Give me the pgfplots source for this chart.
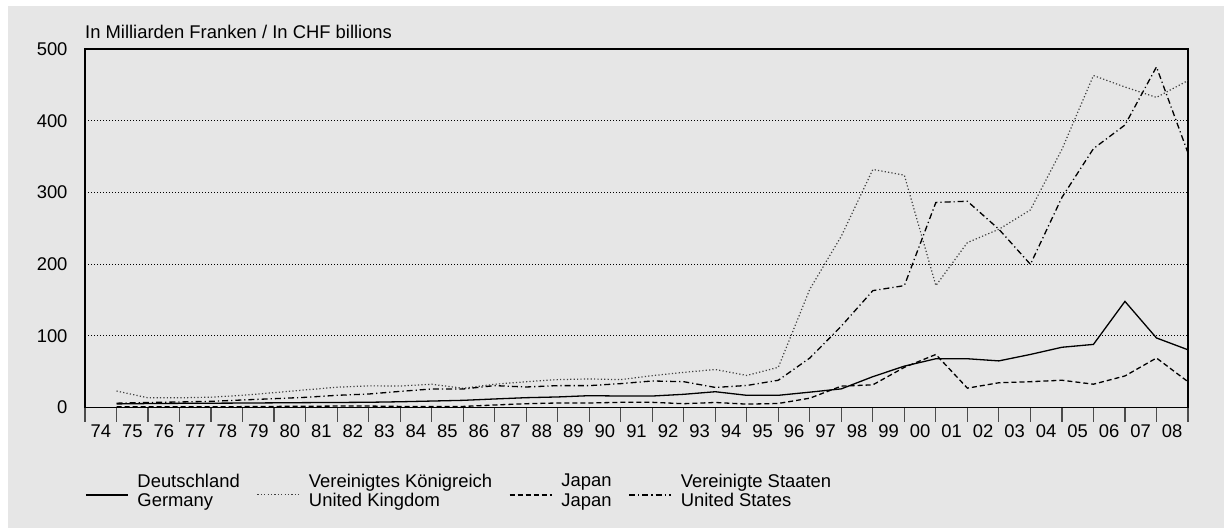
\documentclass[border=0pt]{standalone}
\usepackage{fontspec}
\setmainfont{Liberation Sans}
\usepackage{pgfplots}
\pgfplotsset{compat=1.18}
\definecolor{bg}{RGB}{230,230,230}
\newcommand\chartfont{\fontsize{18.4bp}{19.5bp}\selectfont}

\begin{document}
\begin{tikzpicture}
\path[use as bounding box, fill=white] (0,0) rectangle (1224bp,528bp);
\fill[bg] (8bp,0) rectangle (1224bp,522bp);
\begin{axis}[
    name=ax,
    at={(85bp,120.5bp)}, anchor=south west,
    scale only axis, width=1103bp, height=358.5bp,
    xmin=0, xmax=35, ymin=0, ymax=500,
    xtick={0,...,35},
    x tick label as interval,
    xticklabels={74,75,76,77,78,79,80,81,82,83,84,85,86,87,88,89,90,91,92,93,94,95,96,97,98,99,00,01,02,03,04,05,06,07,08},
    ytick={0,100,...,500},
    /pgf/number format/assume math mode=true,
    tick label style={font=\chartfont},
    ymajorgrids,
    grid style={black, line width=0.7bp, dash pattern=on 0.7bp off 2.3bp},
    axis line style={black, line width=1.4bp},
    tick pos=left,
    tick align=outside,
    major tick length=14bp,
    x tick style={black!70, line width=1.2bp},
    y tick style={draw=none},
    legend columns=4,
    legend style={at={(0,0)}, anchor=north west, yshift=-66bp,
        draw=none, fill=none, inner sep=0pt, font=\chartfont,
        nodes={inner sep=0pt}, cells={anchor=west, align=left},
        /tikz/every odd column/.append style={column sep=9bp},
        /tikz/every even column/.append style={column sep=17bp}},
    legend image code/.code={
        \path (0bp,4bp);
        \draw[#1] (0bp,-4bp) -- (42bp,-4bp);},
]
\addplot[black, line width=1.3bp] coordinates { % Deutschland
(1,5)(2,5.5)(3,5.8)(4,6)(5,6.2)(6,6.5)(7,6.8)(8,7)(9,7.3)(10,8)(11,9)(12,10)
(13,11.9)(14,13.7)(15,14.7)(16,16.5)(17,16)(18,16)(19,18.4)(20,22)(21,17)(22,17)
(23,21.4)(24,26)(25,43)(26,57.7)(27,68)(28,68)(29,65)(30,74)(31,84)(32,88)
(33,148)(34,97)(35,80.5)
};
\addlegendentry{Deutschland\\Germany}
\addplot[black!75, line width=1.2bp, dash pattern=on 1.2bp off 2.2bp] coordinates { % UK
(1,23)(2,13.5)(3,13.5)(4,14.4)(5,17)(6,20.7)(7,24.6)(8,28.3)(9,30.2)(10,30)
(11,32.4)(12,26.8)(13,32.4)(14,36)(15,38.9)(16,39.8)(17,38.9)(18,44.4)(19,49)
(20,53)(21,44.7)(22,56)(23,165)(24,239)(25,332)(26,324)(27,170)(28,230)
(29,248.6)(30,275.6)(31,360)(32,463)(33,447)(34,432.5)(35,456)
};
\addlegendentry{Vereinigtes Königreich\\United Kingdom}
\addplot[black, line width=1.3bp, dash pattern=on 5bp off 3bp] coordinates { % Japan
(1,1)(2,1)(3,1)(4,1)(5,1.2)(6,1.5)(7,1.7)(8,2)(9,2)(10,1.5)(11,1.5)(12,1.5)
(13,3.5)(14,5.3)(15,6.3)(16,6.3)(17,7.2)(18,7.2)(19,5.3)(20,7)(21,4.7)(22,5.6)
(23,13)(24,29.8)(25,31.6)(26,56)(27,74)(28,27)(29,34.5)(30,36)(31,38)(32,32.5)
(33,44)(34,69)(35,36)
};
\addlegendentry{Japan\\Japan}
\addplot[black, line width=1.3bp, dash pattern=on 6bp off 3bp on 1.2bp off 3bp] coordinates { % USA
(1,6)(2,7)(3,7.7)(4,8.6)(5,10.5)(6,12.3)(7,14.2)(8,17)(9,18.8)(10,22.5)
(11,25.8)(12,25.8)(13,30.5)(14,28.6)(15,30.5)(16,30.5)(17,33.3)(18,37)(19,36)
(20,28)(21,30.7)(22,38)(23,69)(24,113.5)(25,163)(26,170)(27,286)(28,287.7)
(29,248.6)(30,199.7)(31,293)(32,361)(33,394)(34,475)(35,355)
};
\addlegendentry{Vereinigte Staaten\\United States}
\end{axis}
\node[anchor=base west, inner sep=0pt, font=\chartfont] at ([yshift=10bp]ax.north west)
    {In Milliarden Franken / In CHF billions};
\end{tikzpicture}
\end{document}
